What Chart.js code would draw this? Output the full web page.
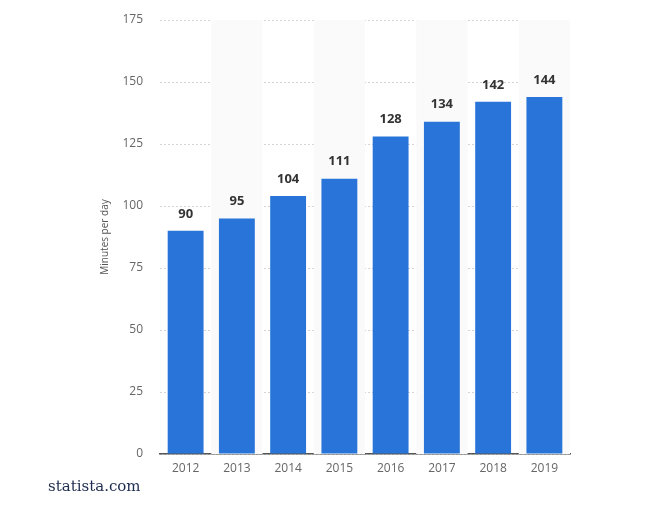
<!DOCTYPE html>
<html>
<head>
<meta charset="utf-8">
<script src="https://cdn.jsdelivr.net/npm/chart.js@4/dist/chart.umd.min.js"></script>
<style>
    body { margin: 0; background: #fff; }
    .wrap { position: relative; width: 651px; height: 507px; }
    .brand {
        position: absolute; left: 48px; top: 477px;
        font-family: "DejaVu Serif", "Liberation Serif", serif;
        font-size: 15px; color: #1d2c4e;
    }
</style>
</head>
<body>
<div class="wrap">
    <canvas id="chart" width="651" height="507"></canvas>
    <div class="brand">statista.com</div>
</div>
<script>
// ── Data ──
const years = ['2012', '2013', '2014', '2015', '2016', '2017', '2018', '2019'];
const minutesPerDay = [90, 95, 104, 111, 128, 134, 142, 144];
const yTicks = [0, 25, 50, 75, 100, 125, 150, 175];

const BAR_BLUE = '#2874d9';

// ── Alternating column stripes ──
const stripes = {
    id: 'stripes',
    beforeDatasetsDraw(chart) {
        const { ctx, chartArea, scales: { x } } = chart;
        const half = (chartArea.right - chartArea.left) / years.length / 2;
        ctx.save();
        ctx.fillStyle = '#fafafa';
        years.forEach((y, i) => {
            if (i % 2 === 1) {
                const cx = x.getPixelForValue(i);
                ctx.fillRect(cx - half, chartArea.top, half * 2, chartArea.bottom - chartArea.top);
            }
        });
        ctx.restore();
    }
};

// ── Value labels above bars ──
const valueLabels = {
    id: 'valueLabels',
    afterDatasetsDraw(chart) {
        const { ctx } = chart;
        const meta = chart.getDatasetMeta(0);
        ctx.save();
        ctx.font = 'bold 13px "Open Sans", sans-serif';
        ctx.fillStyle = '#333';
        ctx.textAlign = 'center';
        ctx.textBaseline = 'middle';
        meta.data.forEach((bar, i) => {
            ctx.fillText(String(minutesPerDay[i]), bar.x, bar.y - 17);
        });
        ctx.restore();
    }
};

new Chart(document.getElementById('chart'), {
    type: 'bar',
    data: {
        labels: years,
        datasets: [{
            data: minutesPerDay,
            backgroundColor: BAR_BLUE,
            barPercentage: 0.7,
            categoryPercentage: 1,
        }],
    },
    options: {
        responsive: false,
        animation: false,
        layout: { padding: { top: 20, right: 81, bottom: 0, left: 0 } },
        plugins: { legend: { display: false }, tooltip: { enabled: false } },
        scales: {
            x: {
                grid: { display: false, drawTicks: false },
                border: { display: true, color: '#555', width: 1.5 },
                ticks: { color: '#666', font: { family: '"Open Sans", sans-serif', size: 12 }, padding: 7 },
                afterFit(s) { s.height = 53; },
            },
            y: {
                min: 0,
                max: 175,
                afterBuildTicks(s) { s.ticks = yTicks.map(v => ({ value: v })); },
                grid: { color: '#d4d4d4', drawTicks: true, tickLength: 14, tickColor: 'rgba(0,0,0,0)' },
                border: { display: false, dash: [2, 2] },
                ticks: { color: '#666', font: { family: '"Open Sans", sans-serif', size: 12 }, padding: 3 },
                title: {
                    display: true,
                    text: 'Minutes per day',
                    color: '#555',
                    font: { family: '"Open Sans", sans-serif', size: 10 },
                    padding: { top: 99, bottom: 0 },
                },
                afterFit(s) { s.width = 160; },
            },
        },
    },
    plugins: [stripes, valueLabels],
});
</script>
</body>
</html>
